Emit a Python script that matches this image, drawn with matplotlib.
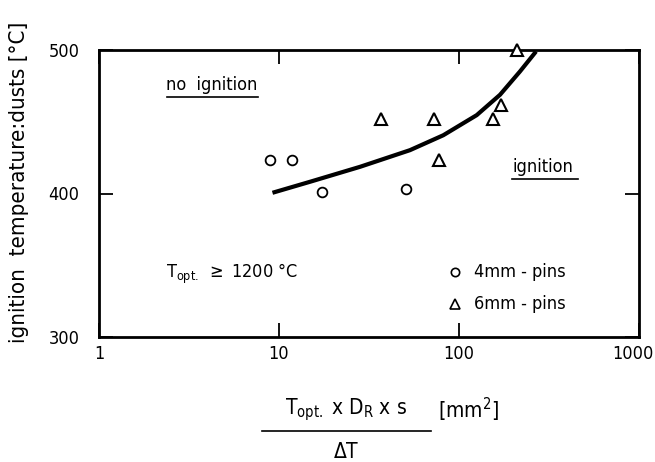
import numpy as np
import matplotlib
matplotlib.use('Agg')
import matplotlib.pyplot as plt
import matplotlib.transforms as mtransforms
from matplotlib.lines import Line2D

plt.rcParams['font.family'] = ['DejaVu Sans']
plt.rcParams['font.stretch'] = 'condensed'
plt.rcParams['mathtext.fontset'] = 'custom'
plt.rcParams['mathtext.rm'] = 'DejaVu Sans'
plt.rcParams['mathtext.it'] = 'DejaVu Sans'

# 4 mm pins (circles)
pins4_x = [8.9, 11.8, 17.3, 50.8]
pins4_y = [423, 423, 401, 403]

# 6 mm pins (triangles)
pins6_x = [36.9, 72.6, 77.4, 154, 171, 210]
pins6_y = [452, 452, 423, 452, 462, 500]

# boundary curve between ignition / no ignition
curve_x = [9.2, 14.9, 28.2, 53.4, 81.8, 125.4, 169, 218, 268]
curve_y = [400.5, 408.2, 418.6, 430.2, 440.6, 454.6, 468.8, 485, 499]

x_ticks = [1, 10, 100, 1000]
y_ticks = [300, 400, 500]

fig = plt.figure(figsize=(6.55, 4.62), dpi=100)
ax = fig.add_axes([99 / 655, 1 - 337 / 462, 540 / 655, 287 / 462])

ax.plot(curve_x, curve_y, color='k', linewidth=3, solid_capstyle='butt', zorder=3)
ax.plot(pins4_x, pins4_y, linestyle='none', marker='o', markersize=7,
        markerfacecolor='white', markeredgecolor='k', markeredgewidth=1.3, zorder=4)
ax.plot(pins6_x, pins6_y, linestyle='none', marker='^', markersize=9,
        markerfacecolor='white', markeredgecolor='k', markeredgewidth=1.5, zorder=4,
        clip_on=False)

ax.set_xscale('log')
ax.set_xlim(1, 1000)
ax.set_ylim(300, 500)
ax.set_xticks(x_ticks)
ax.set_xticklabels([str(v) for v in x_ticks])
ax.set_yticks(y_ticks)
ax.set_yticklabels([str(v) for v in y_ticks])
ax.minorticks_off()
ax.tick_params(axis='both', direction='in', length=10, width=1.3, labelsize=13,
               top=True, right=True)
ax.tick_params(axis='x', pad=6)
ax.tick_params(axis='y', pad=14)
for s in ax.spines.values():
    s.set_linewidth(2)

# nudge the "1000" label a little left so it stays inside the figure
last = ax.get_xticklabels()[-1]
last.set_transform(last.get_transform() +
                   mtransforms.ScaledTranslation(-6 / 100, 0, fig.dpi_scale_trans))

# annotations
ax.text(0.125, 0.86, 'no  ignition', transform=ax.transAxes, fontsize=13)
ax.plot([0.125, 0.295], [0.835, 0.835], transform=ax.transAxes, color='k', lw=1.2)
ax.text(0.765, 0.575, 'ignition', transform=ax.transAxes, fontsize=13)
ax.plot([0.765, 0.887], [0.55, 0.55], transform=ax.transAxes, color='k', lw=1.2)
ax.text(0.125, 0.205, r'T$_{\mathrm{opt.}}$ $\geq$ 1200 °C', transform=ax.transAxes, fontsize=13)

# legend drawn by hand
ax.plot([0.66], [0.225], transform=ax.transAxes, marker='o', markersize=6,
        markerfacecolor='white', markeredgecolor='k', markeredgewidth=1.2)
ax.text(0.695, 0.225, '4mm - pins', transform=ax.transAxes, fontsize=13, va='center')
ax.plot([0.66], [0.115], transform=ax.transAxes, marker='^', markersize=7,
        markerfacecolor='white', markeredgecolor='k', markeredgewidth=1.2)
ax.text(0.695, 0.115, '6mm - pins', transform=ax.transAxes, fontsize=13, va='center')

# y label
fig.text(19 / 655, 1 - 182 / 462, 'ignition  temperature:dusts [°C]', rotation=90,
         fontsize=16, ha='center', va='center')

# x label as a fraction
fig.text(346 / 655, 1 - 410 / 462, r'T$_{\mathrm{opt.}}$ x D$_{\mathrm{R}}$ x s',
         fontsize=15, ha='center', va='center')
fig.add_artist(Line2D([262 / 655, 431 / 655], [1 - 431 / 462, 1 - 431 / 462],
                      color='k', lw=1.2))
fig.text(346 / 655, 1 - 452 / 462, r'$\Delta$T', fontsize=15, ha='center', va='center')
fig.text(468 / 655, 1 - 410 / 462, r'[mm$^{2}$]', fontsize=15, ha='center', va='center')

fig.savefig('out.png', dpi=100)
